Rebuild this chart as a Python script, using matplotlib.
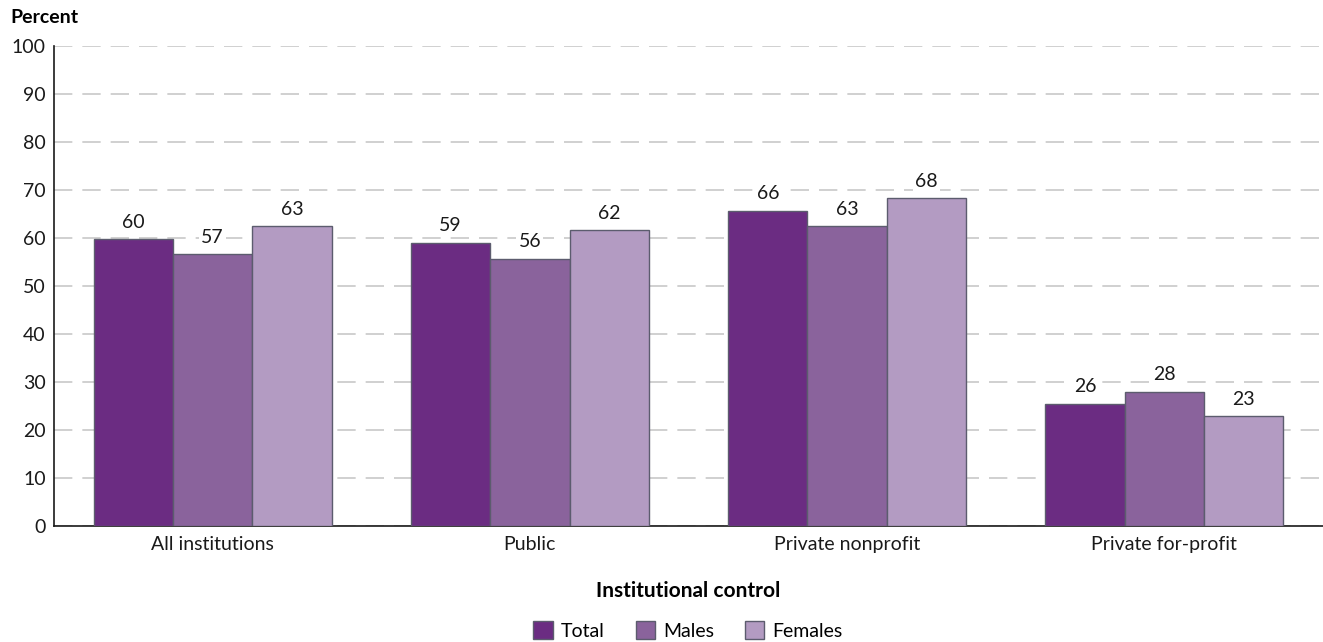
import numpy as np
import matplotlib
matplotlib.use("Agg")
from matplotlib import pyplot as plt
from matplotlib.patches import Patch

plt.rcParams['font.family'] = ['Lato', 'DejaVu Sans']

# data
categories = ["All institutions", "Public", "Private nonprofit", "Private for-profit"]
total = [59.8, 59.0, 65.7, 25.5]
males = [56.6, 55.7, 62.5, 28.0]
females = [62.4, 61.7, 68.3, 22.9]
total_lbl = [60, 59, 66, 26]
males_lbl = [57, 56, 63, 28]
females_lbl = [63, 62, 68, 23]
series_names = ["Total", "Males", "Females"]
colors = ["#6b2c82", "#8a639c", "#b39bc2"]
edge = "#5c5c6e"

fig = plt.figure(figsize=(13.23, 6.42), dpi=100)
ax = fig.add_axes([0.0408, 0.1807, 0.9592, 0.7476])

x = np.arange(len(categories))
w = 0.25
series = [(total, total_lbl), (males, males_lbl), (females, females_lbl)]
for i, (vals, lbls) in enumerate(series):
    bars = ax.bar(x + (i - 1) * w, vals, w, color=colors[i], edgecolor=edge,
                  linewidth=1.0, zorder=3)
    for b, l in zip(bars, lbls):
        ax.annotate(str(l), (b.get_x() + b.get_width() / 2, b.get_height()),
                    xytext=(0, 6), textcoords="offset points", ha="center",
                    va="bottom", fontsize=14, color="#1a1a1a", zorder=4,
                    bbox=dict(facecolor="white", edgecolor="none", pad=1.5))

ax.set_xlim(-0.5, len(categories) - 0.5)
ax.set_ylim(0, 100)
ax.set_yticks(range(0, 101, 10))
ax.set_xticks(x)
ax.set_xticklabels(categories)
ax.tick_params(axis="both", length=0, labelsize=14, colors="#1a1a1a")
ax.tick_params(axis="y", pad=6)
ax.tick_params(axis="x", pad=7)
ax.yaxis.grid(True, color="#c8c8c8", linestyle=(0, (11, 6)), linewidth=1.2, zorder=0)
for s in ["top", "right"]:
    ax.spines[s].set_visible(False)
ax.spines["left"].set_color("#1a1a1a")
ax.spines["bottom"].set_color("#1a1a1a")
ax.spines["left"].set_linewidth(1.2)
ax.spines["bottom"].set_linewidth(1.2)

fig.text(0.0076, 0.972, "Percent", fontsize=14, fontweight="bold", ha="left", va="center")
fig.text(0.52, 0.079, "Institutional control", fontsize=15, fontweight="bold",
         ha="center", va="center")

handles = [Patch(facecolor=c, edgecolor=edge, label=n) for c, n in zip(colors, series_names)]
fig.legend(handles=handles, loc="center", bbox_to_anchor=(0.52, 0.018), ncol=3,
           frameon=False, fontsize=14, handlelength=1.0, handleheight=1.0,
           handletextpad=0.4, columnspacing=1.6, borderpad=0)

fig.savefig("out.png", dpi=100)
